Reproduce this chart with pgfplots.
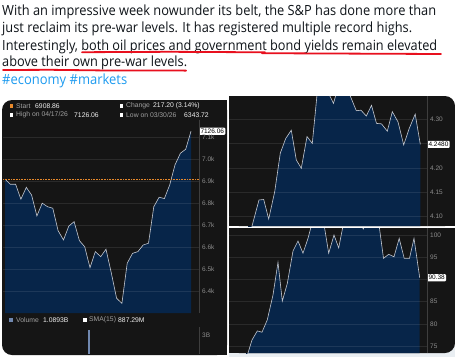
\documentclass[border=0pt]{standalone}
\usepackage{pgfplots}
\usepackage{pgfplotstable}
\pgfplotsset{compat=1.18}
\usepackage{graphicx}
\usepackage{fontspec}
\setmainfont{Open Sans}
\newfontfamily\chartfont{Liberation Sans}
\definecolor{panelbg}{HTML}{151515}
\definecolor{navy}{HTML}{072549}
\definecolor{linec}{HTML}{C4C8D0}
\definecolor{tickc}{HTML}{8C8C8C}
\definecolor{axisc}{HTML}{3E3E3E}
\definecolor{twtext}{HTML}{0F1419}
\definecolor{twblue}{HTML}{1D9BF0}
\definecolor{redline}{HTML}{E8101E}
\definecolor{orangec}{HTML}{E8892B}
\definecolor{volc}{HTML}{7088B0}
\definecolor{bottomc}{HTML}{E9EEF2}
\definecolor{labc}{HTML}{A0A0A0}
\definecolor{valc}{HTML}{F0F0F0}

\newsavebox\tbox
\newlength\fitlen
\newcommand\fitline[2]{\sbox\tbox{#2}\setlength\fitlen{\wd\tbox}\pgfmathsetmacro\sx{#1/\fitlen}\scalebox{\sx}[1]{\usebox\tbox}}

\pgfplotstableread{
x y
5.0 6908.86
10.3 6885
15.6 6885
20.9 6817
26.3 6871
31.6 6836
36.9 6741
42.2 6799
47.5 6783
52.8 6776
58.1 6674
63.5 6632
68.8 6695
74.1 6715
79.4 6629
84.7 6601
90.0 6506
95.3 6579
100.7 6556
106.0 6590
111.3 6482
116.6 6367
121.9 6343.72
127.2 6526
132.5 6571
137.9 6579
143.2 6609
148.5 6617
153.8 6783
159.1 6826
164.4 6820
169.7 6882
175.0 6973
180.4 7026
185.7 7044
191.0 7126.06
}\sptable

\pgfplotstableread{
x y
248 4.05
259 4.134
263.7 4.135
268.7 4.095
274.7 4.151
280.3 4.230
285.7 4.260
291.3 4.277
296.3 4.216
301.3 4.199
307 4.264
312.3 4.250
317.5 4.36
322.7 4.37
328 4.355
333.5 4.332
338.7 4.37
344.5 4.375
351.3 4.342
356.3 4.317
361 4.318
366.3 4.306
371.5 4.328
376.5 4.291
381.5 4.290
387.3 4.275
392.3 4.315
398 4.294
403.7 4.247
409.3 4.281
415.2 4.310
420.3 4.248
}\bondtable

\pgfplotstableread{
x y
246 72
252 76.35
257.3 78.4
262 78.1
267.3 80.9
273 86.5
278 93.85
282.3 85.1
287.3 89.1
293 96.4
298 98.65
303 95.9
308 99.25
313 103.5
318 104.5
323 103.8
328.7 95.9
334 100
338.7 97.1
344 103.2
349 104.5
354 105
358.5 103.5
363.3 101.35
368 103.8
373 105
378 104
383.5 94.75
388.7 95.65
394 95.1
399.2 99.25
404.2 94.75
409.5 94.75
414 99.25
419.7 90.38
}\oiltable

\pgfplotsset{
 panel/.style={
  scale only axis, anchor=north west, clip mode=individual, axis on top,
  axis x line=none, axis y line*=right,
  axis line style={draw=axisc, line width=0.5pt, -},
  major tick length=0pt,
  ymajorgrids, grid style={draw=white, opacity=0.09, line width=0.5pt},
  yticklabel style={font=\chartfont\fontsize{6.5}{7}\selectfont, text=tickc, inner sep=0pt, xshift=3pt, anchor=west},
 },
}
\tikzset{lbox/.style={fill=white, text=black, font=\chartfont\fontsize{6.5}{7}\selectfont, inner sep=1.3pt, anchor=west, rounded corners=1pt}}

\begin{document}
\begin{tikzpicture}
\fill[white] (0,0) rectangle (455pt,-357pt);
\begin{scope}[x=1pt,y=-1pt]
\fill[bottomc] (229,345) rectangle (455,357);
% panels
\fill[panelbg, rounded corners=10pt] (2,100) rectangle (227,355);
\fill[panelbg] (150,100) rectangle (227,355);
\fill[panelbg, rounded corners=10pt] (229,96) rectangle (455,226);
\fill[panelbg] (229,96) rectangle (300,226);
\fill[panelbg] (229,150) rectangle (455,226);
\fill[panelbg, rounded corners=10pt] (229,228) rectangle (455,353);
\fill[panelbg] (229,228) rectangle (455,300);
\fill[panelbg] (229,228) rectangle (300,353);
% tweet text
\begin{scope}[every node/.style={anchor=base west, inner sep=0pt, text=twtext, font=\fontsize{14}{17}\selectfont}]
\node at (2,15) {\fitline{434}{With an impressive week nowunder its belt, the S\&P has done more than}};
\node at (2,32.7) {\fitline{410}{just reclaim its pre-war levels. It has registered multiple record highs.}};
\node at (2,50) {\fitline{435}{Interestingly, both oil prices and government bond yields remain elevated}};
\node at (2,66.7) {\fitline{185}{above their own pre-war levels.}};
\node[text=twblue] at (2,84) {\fitline{125}{\#economy \#markets}};
\end{scope}
\draw[redline, line width=1.8pt, line cap=round] (82,52.2) -- (170,51.8) -- (265,52.3);
\draw[redline, line width=1.8pt, line cap=round] (262,53.2) -- (350,53.6) -- (441,54);
\draw[redline, line width=1.8pt, line cap=round] (3,70) -- (50,69.8) -- (100,70.4) -- (186,70.6);
% header of left panel
\begin{scope}[every node/.style={anchor=west, inner sep=0pt, font=\chartfont\fontsize{6.8}{7}\selectfont}]
\fill[orangec] (9.5,104.3) rectangle (13,107.8);
\node[text=labc] at (16,106) {Start};
\node[text=valc] at (35,106) {6908.86};
\fill[white] (119.5,104.3) rectangle (123,107.8);
\node[text=labc] at (126,106) {Change};
\node[text=valc] at (153,106) {217.20 (3.14\%)};
\fill[white] (9.5,113.3) rectangle (13,116.8);
\node[text=labc] at (16,115) {High on 04/17/26};
\node[text=valc] at (74,115) {7126.06};
\fill[white] (119.5,113.3) rectangle (123,116.8);
\node[text=labc] at (126,115) {Low on 03/30/26};
\node[text=valc] at (184,115) {6343.72};
\fill[volc] (9,318.3) rectangle (12.5,321.8);
\node[text=labc] at (16,320) {Volume};
\node[text=valc] at (43,320) {1.0893B};
\fill[white] (83,318.3) rectangle (86.5,321.8);
\node[text=labc] at (89,320) {SMA(15)};
\node[text=valc] at (118,320) {887.29M};
\end{scope}
\end{scope}

% S&P 500 panel
\begin{axis}[panel, at={(3pt,-120pt)}, width=196pt, height=193pt,
  xmin=3, xmax=199, ymin=6300, ymax=7177,
  axis x line*=bottom, xtick=\empty,
  ytick={6400,6500,6600,6700,6800,6900,7000,7100},
  yticklabels={6.4k,6.5k,6.6k,6.7k,6.8k,6.9k,7.0k,7.1k}]
\addplot[draw=none, fill=navy] table {\sptable} \closedcycle;
\addplot[linec, line width=0.6pt] table {\sptable};
\addplot[orangec, densely dotted, line width=0.6pt] coordinates {(3,6908.86) (199,6908.86)};
\node[lbox] at (axis cs:199,7126.06) {7126.06};
\end{axis}

% volume panel
\begin{axis}[panel, at={(3pt,-327pt)}, width=196pt, height=27pt,
  xmin=3, xmax=199, ymin=2.14, ymax=3.36, ymajorgrids=false,
  ytick={3}, yticklabels={3B}]
\addplot[ybar, bar width=2pt, fill=volc, draw=none] coordinates {(89,3.23)};
\end{axis}

% bond yield panel
\begin{axis}[panel, at={(229pt,-96pt)}, width=198pt, height=130pt,
  xmin=229, xmax=427, ymin=4.0807, ymax=4.3471,
  ytick={4.10,4.15,4.20,4.25,4.30},
  yticklabels={4.10,4.15,4.20,,4.30}]
\addplot[draw=none, fill=navy] table {\bondtable} \closedcycle;
\addplot[linec, line width=0.6pt] table {\bondtable};
\node[lbox] at (axis cs:427,4.248) {4.2480};
\end{axis}

% oil panel
\begin{axis}[panel, at={(229pt,-228pt)}, width=198pt, height=125pt,
  xmin=229, xmax=427, ymin=73.42, ymax=101.58,
  ytick={75,80,85,90,95,100},
  yticklabels={75,80,85,,95,100}]
\addplot[draw=none, fill=navy] table {\oiltable} \closedcycle;
\addplot[linec, line width=0.6pt] table {\oiltable};
\node[lbox] at (axis cs:427,90.38) {90.38};
\end{axis}

\pgfresetboundingbox
\path[use as bounding box] (0,0) rectangle (455pt,-357pt);
\end{tikzpicture}
\end{document}
